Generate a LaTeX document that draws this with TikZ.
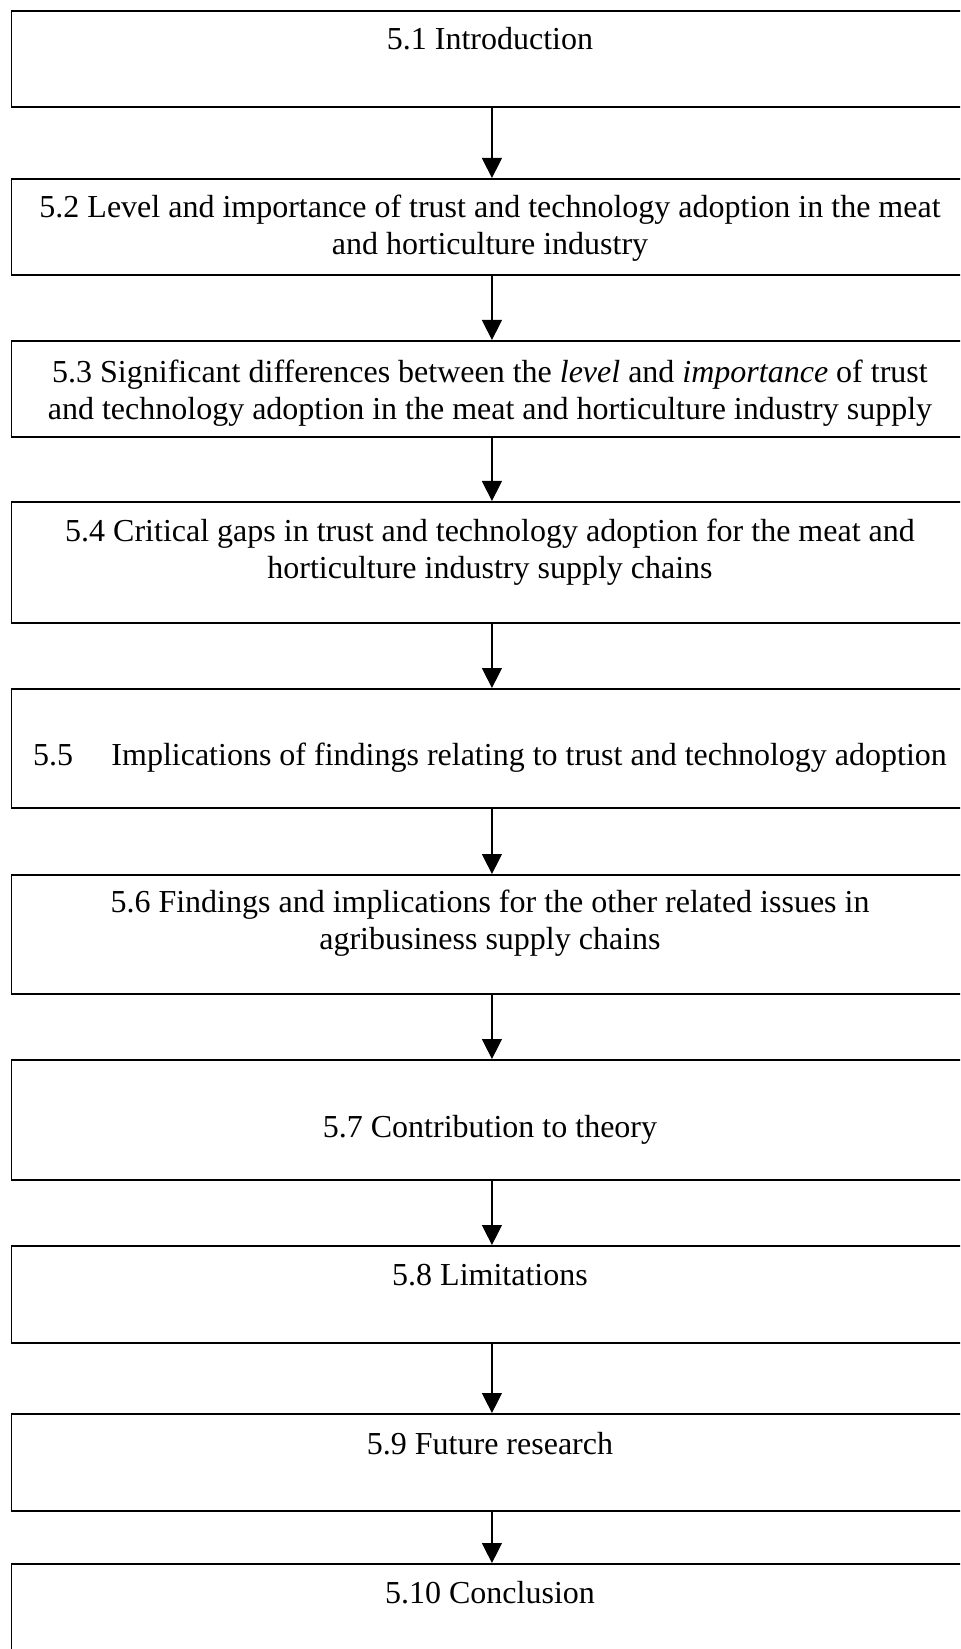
\documentclass[tikz,border=0pt]{standalone}
\usepackage{fontspec}
\setmainfont{Liberation Serif}
\usetikzlibrary{arrows.meta}
\begin{document}
\begin{tikzpicture}[x=0.375pt,y=-0.375pt,
  section/.style={draw=black,line width=0.7pt,inner sep=0pt,
    minimum width={961*0.375pt},minimum height={#1*0.375pt},anchor=north west},
  label/.style={inner sep=0pt,align=center,font=\fontsize{12}{13.8}\selectfont},
  flow/.style={line width=0.5pt,-{Triangle[length=7.5pt,width=7.5pt]}}]
\useasboundingbox (0,0) rectangle (960,1649);
\begin{scope}
\clip (0,0) rectangle (960,1649);
% section boxes (they run past the right margin)
\node[section=96]  (b1)  at (10.5,10)   {};
\node[section=96]  (b2)  at (10.5,178)  {};
\node[section=96]  (b3)  at (10.5,340)  {};
\node[section=121] (b4)  at (10.5,501)  {};
\node[section=119] (b5)  at (10.5,688)  {};
\node[section=119] (b6)  at (10.5,874)  {};
\node[section=120] (b7)  at (10.5,1059) {};
\node[section=97]  (b8)  at (10.5,1245) {};
\node[section=97]  (b9)  at (10.5,1413) {};
\node[section=140] (b10) at (10.5,1563) {};
% section titles
\node[label,anchor=base] (t1) at (490,50) {5.1 Introduction};
\node[label] (t2) at (490,228) {5.2 Level and importance of trust and technology adoption in the meat\\ and horticulture industry};
\node[label] (t3) at (490,393) {5.3 Significant differences between the \textit{level} and \textit{importance} of trust\\ and technology adoption in the meat and horticulture industry supply};
\node[label] (t4) at (490,552) {5.4 Critical gaps in trust and technology adoption for the meat and\\ horticulture industry supply chains};
\node[label,anchor=base] (t5) at (490,765) {5.5\hspace{1.2em}Implications of findings relating to trust and technology adoption};
\node[label] (t6) at (490,923) {5.6 Findings and implications for the other related issues in\\ agribusiness supply chains};
\node[label,anchor=base] (t7) at (490,1137) {5.7 Contribution to theory};
\node[label,anchor=base] (t8) at (490,1285) {5.8 Limitations};
\node[label,anchor=base] (t9) at (490,1454) {5.9 Future research};
\node[label,anchor=base] (t10) at (490,1603) {5.10 Conclusion};
% connectors
\draw[flow] (b1.south) -- (b2.north);
\draw[flow] (b2.south) -- (b3.north);
\draw[flow] (b3.south) -- (b4.north);
\draw[flow] (b4.south) -- (b5.north);
\draw[flow] (b5.south) -- (b6.north);
\draw[flow] (b6.south) -- (b7.north);
\draw[flow] (b7.south) -- (b8.north);
\draw[flow] (b8.south) -- (b9.north);
\draw[flow] (b9.south) -- (b10.north);
\end{scope}
\end{tikzpicture}
\end{document}
